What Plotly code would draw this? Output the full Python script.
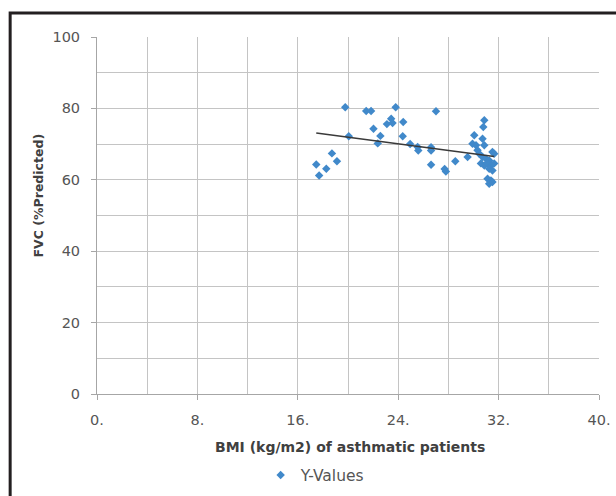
import numpy as np
import plotly.graph_objects as go

# ---- data ----
bmi = [17.47, 17.7, 18.27, 18.72, 19.12, 19.78, 20.06, 21.45, 21.84, 22.03,
       22.58, 22.37, 23.1, 23.44, 23.55, 23.8, 24.4, 24.36, 24.95, 25.55,
       25.6, 26.62, 26.62, 26.62, 27.01, 27.7, 27.8, 28.55, 29.53, 29.92,
       30.2, 30.06, 30.72, 30.78, 30.86, 30.86, 30.32, 30.46, 30.72, 30.99,
       31.25, 31.51, 31.65, 30.59, 30.86, 31.12, 31.39, 31.65, 31.25, 31.51,
       31.12, 31.39, 31.25, 31.51]
fvc = [64.3, 61.2, 63.1, 67.4, 65.2, 80.3, 72.2, 79.3, 79.3, 74.3,
       72.3, 70.2, 75.6, 77.1, 75.9, 80.3, 76.2, 72.2, 70.0, 69.2,
       68.2, 69.1, 68.2, 64.2, 79.2, 63.0, 62.3, 65.2, 66.4, 70.1,
       69.7, 72.5, 71.5, 74.8, 76.7, 69.7, 68.3, 67.3, 66.4, 65.9,
       65.4, 67.8, 67.3, 64.6, 64.0, 64.6, 64.0, 64.6, 63.1, 62.6,
       60.3, 59.8, 58.9, 59.4]

x_tickvals = [0, 8, 16, 24, 32, 40]
x_ticktext = ["0.", "8.", "16.", "24.", "32.", "40."]
y_tickvals = [0, 20, 40, 60, 80, 100]
y_ticktext = ["0", "20", "40", "60", "80", "100"]

series_name = "Y-Values"
x_title = "BMI (kg/m2) of asthmatic patients"
y_title = "FVC (%Predicted)"

# linear trendline (Excel style) over data range
slope, intercept = np.polyfit(bmi, fvc, 1)
tx = np.array([min(bmi), max(bmi)])
ty = slope * tx + intercept

FONT = "DejaVu Sans"
TICK_COLOR = "#555555"
GRID = "#C4C4C4"

fig = go.Figure()
fig.add_trace(go.Scatter(
    x=bmi, y=fvc, mode="markers", name=series_name,
    marker=dict(symbol="diamond", size=6.5, color="#4189CA"),
))
fig.add_trace(go.Scatter(
    x=tx, y=ty, mode="lines", showlegend=False,
    line=dict(color="#3A3A3A", width=1.6), hoverinfo="skip",
))

fig.update_layout(
    width=616, height=496,
    margin=dict(l=97, r=17, t=37, b=102, autoexpand=False),
    paper_bgcolor="white", plot_bgcolor="white",
    font=dict(family=FONT, color=TICK_COLOR, size=13),
    showlegend=True,
    legend=dict(orientation="h", x=0.326, y=-0.228, xanchor="left", yanchor="middle",
                font=dict(family=FONT, size=15.5, color=TICK_COLOR),
                itemwidth=30, bgcolor="rgba(0,0,0,0)"),
    xaxis=dict(range=[0, 40], tickvals=x_tickvals, ticktext=x_ticktext,
               showgrid=True, gridcolor=GRID, gridwidth=1,
               minor=dict(dtick=4, tick0=0, showgrid=True, gridcolor=GRID, gridwidth=1),
               showline=True, linecolor="#A6A6A6", linewidth=1,
               ticks="outside", ticklen=5, tickcolor="#A6A6A6",
               ticklabelstandoff=8, automargin=False,
               tickfont=dict(family=FONT, size=14.5, color=TICK_COLOR),
               zeroline=False, fixedrange=True),
    yaxis=dict(range=[0, 100], tickvals=y_tickvals, ticktext=y_ticktext,
               showgrid=True, gridcolor=GRID, gridwidth=1,
               minor=dict(dtick=10, tick0=0, showgrid=True, gridcolor=GRID, gridwidth=1),
               showline=True, linecolor="#A6A6A6", linewidth=1,
               ticks="outside", ticklen=5, tickcolor="#A6A6A6",
               ticklabelstandoff=8, automargin=False,
               tickfont=dict(family=FONT, size=14.5, color=TICK_COLOR),
               zeroline=False, fixedrange=True),
    annotations=[
        dict(text="<b>" + x_title + "</b>", xref="paper", yref="paper",
             x=0.503, y=-0.148, showarrow=False, xanchor="center", yanchor="middle",
             font=dict(family=FONT, size=14, color="#404040")),
        dict(text="<b>" + y_title + "</b>", xref="paper", yref="paper",
             x=-0.117, y=0.557, showarrow=False, xanchor="center", yanchor="middle",
             textangle=-90, font=dict(family=FONT, size=12.5, color="#404040")),
    ],
    shapes=[
        dict(type="rect", xref="paper", yref="paper",
             x0=-0.173, x1=1.2, y0=-0.4, y1=1.067,
             line=dict(color="#231F20", width=3), fillcolor="rgba(0,0,0,0)", layer="above"),
    ],
)

fig.write_html("out.html", config={"displayModeBar": False},
               post_script="document.body.style.margin='0';")
